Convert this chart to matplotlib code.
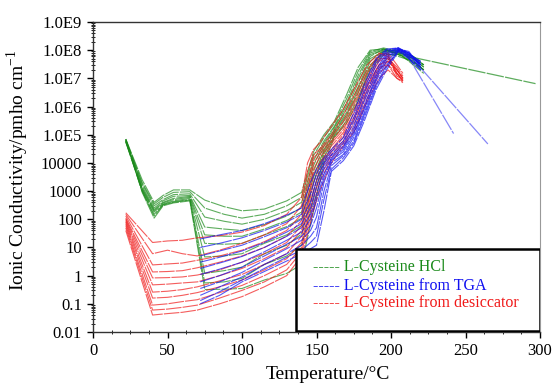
import matplotlib
matplotlib.use("Agg")
import matplotlib.pyplot as plt
from matplotlib.patches import Rectangle
from matplotlib.ticker import FixedLocator, MultipleLocator, LogLocator, NullFormatter

plt.rcParams["font.family"] = ["Liberation Serif", "DejaVu Serif"]
plt.rcParams["mathtext.fontset"] = "custom"
plt.rcParams["mathtext.rm"] = "Liberation Serif"

# L-Cysteine HCl
green_x = [22, 33, 41, 47, 54, 65, 75, 88, 100, 115, 130, 140, 148, 155, 162, 170, 178, 186, 195, 205, 215, 222]
green_y = [
    [7e4, 2500, 400, 700, 1100, 1100, 480, 280, 200, 230, 450, 900, 2.5e4, 1e5, 3e5, 2.5e6, 2.5e7, 1e8, 1.1e8, 7e7, 4e7, 2e7],
    [7e4, 2000, 350, 600, 900, 950, 250, 150, 110, 150, 300, 600, 1.8e4, 8e4, 2.5e5, 1.8e6, 1.8e7, 9e7, 1.2e8, 9e7, 6e7, 3e7],
    [6.5e4, 1800, 300, 500, 750, 800, 120, 85, 67, 100, 200, 400, 1.2e4, 6e4, 2e5, 1.3e6, 1.3e7, 8e7, 1.1e8, 8e7, 5e7, 2.5e7],
    [6.5e4, 1500, 250, 450, 650, 700, 53, 45, 40, 65, 130, 260, 8e3, 5e4, 1.8e5, 1e6, 1e7, 7e7, 1e8, 1e8, 4e7, 2e7],
    [6e4, 1300, 220, 400, 550, 650, 28, 25, 25, 45, 90, 180, 5e3, 4e4, 1.5e5, 8e5, 7e6, 6e7, 1.1e8, 7e7, 5e7, 3e7],
    [6e4, 1200, 200, 380, 500, 600, 14, 13, 14, 28, 55, 110, 3e3, 3e4, 1.3e5, 6e5, 5e6, 5e7, 9e7, 8e7, 3e7, 1.5e7],
    [5.5e4, 1100, 180, 350, 450, 550, 4.6, 5, 6, 14, 28, 60, 2e3, 2.5e4, 1.2e5, 5e5, 4e6, 4e7, 1e8, 9e7, 5e7, 2.5e7],
    [5.5e4, 1000, 150, 330, 420, 500, 1.2, 1.5, 2, 6, 12, 30, 1e3, 2e4, 1e5, 4e5, 3e6, 3e7, 8e7, 6e7, 4e7, 2e7],
    [6e4, 1000, 130, 320, 400, 480, 0.55, 0.6, 0.8, 2.5, 5, 12, 500, 1.5e4, 9e4, 3e5, 2e6, 2.5e7, 9e7, 8e7, 6e7, 3e7],
    [7e4, 900, 110, 300, 380, 450, 0.32, 0.33, 0.35, 0.7, 1.2, 2.5, 200, 1e4, 8e4, 2.5e5, 1.5e6, 2e7, 7e7, 7e7, 3.5e7, 2e7],
]
green_tail_x = [215, 297]
green_tail_y = [5.5e7, 6.5e6]

# L-Cysteine from desiccator
red_x = [22, 40, 50, 60, 70, 85, 100, 115, 130, 140, 144, 148, 152, 160, 168, 176, 184, 192, 198, 204, 208]
red_y = [
    [170, 15, 17, 18, 22, 26, 35, 60, 150, 600, 1e4, 3e4, 5e4, 2e5, 8e5, 5e6, 3e7, 8e7, 6e7, 2e7, 1e7],
    [150, 6, 8, 6, 5, 8, 14, 28, 70, 300, 5e3, 2e4, 3e4, 1e5, 5e5, 3e6, 2e7, 7e7, 8e7, 3e7, 1.5e7],
    [130, 2.4, 2.6, 2.8, 3.5, 5, 8, 16, 40, 150, 2e3, 1.5e4, 2.5e4, 8e4, 3e5, 2e6, 1.5e7, 6e7, 7e7, 1.5e7, 8e6],
    [110, 1.35, 1.4, 1.5, 1.9, 3, 5, 10, 25, 90, 1e3, 1e4, 2e4, 6e4, 2e5, 1.5e6, 1e7, 5e7, 5e7, 2.5e7, 1.2e7],
    [100, 0.83, 0.85, 0.9, 1.05, 1.6, 3, 6, 15, 60, 500, 6e3, 1.5e4, 5e4, 1.5e5, 1e6, 8e6, 4e7, 6e7, 1.2e7, 9e6],
    [90, 0.47, 0.5, 0.55, 0.6, 1, 1.8, 4, 10, 40, 300, 4e3, 1e4, 4e4, 1.2e5, 7e5, 6e6, 3e7, 4e7, 2e7, 1e7],
    [80, 0.26, 0.28, 0.32, 0.4, 0.65, 1.1, 2.5, 6, 25, 200, 2e3, 8e3, 3e4, 1e5, 5e5, 5e6, 3e7, 5e7, 1.5e7, 8e6],
    [70, 0.16, 0.17, 0.2, 0.25, 0.4, 0.7, 1.6, 4, 15, 120, 1e3, 5e3, 2.5e4, 8e4, 4e5, 4e6, 2.5e7, 3e7, 1e7, 7e6],
    [60, 0.09, 0.1, 0.12, 0.14, 0.25, 0.45, 1, 2.5, 10, 80, 600, 3e3, 2e4, 6e4, 3e5, 3e6, 2e7, 4e7, 2e7, 1e7],
    [50, 0.06, 0.065, 0.075, 0.09, 0.16, 0.3, 0.6, 1.6, 7, 50, 300, 2e3, 1.5e4, 5e4, 2e5, 2e6, 1.5e7, 3e7, 1.5e7, 9e6],
    [40, 0.04, 0.045, 0.05, 0.06, 0.1, 0.18, 0.4, 1, 5, 30, 200, 1e3, 1e4, 4e4, 1.5e5, 1.5e6, 1e7, 2e7, 1e7, 8e6],
]

# L-Cysteine from TGA
blue_x = [72, 85, 100, 115, 130, 140, 146, 150, 155, 160, 168, 175, 182, 190, 197, 205, 212, 220]
blue_y = [
    [20, 28, 40, 70, 140, 250, 2e3, 6e3, 1.5e4, 3e4, 8e4, 6e5, 6e6, 5e7, 1.1e8, 1.2e8, 8e7, 3e7],
    [10, 14, 22, 40, 80, 150, 800, 4e3, 1.2e4, 2.5e4, 6e4, 4e5, 4e6, 4e7, 1e8, 1.2e8, 7e7, 4e7],
    [5, 7.5, 12, 24, 50, 100, 400, 2.5e3, 1e4, 2e4, 5e4, 3e5, 3e6, 3e7, 9e7, 1.1e8, 9e7, 2.5e7],
    [3, 4.5, 7.5, 15, 35, 70, 250, 1.5e3, 8e3, 1.8e4, 4e4, 2e5, 2e6, 2e7, 8e7, 1.2e8, 6e7, 3.5e7],
    [1.8, 2.8, 4.8, 10, 25, 50, 150, 800, 6e3, 1.5e4, 3.5e4, 1.5e5, 1.5e6, 1.5e7, 7e7, 1.1e8, 8e7, 3e7],
    [1.1, 1.7, 3, 7, 18, 35, 100, 500, 4e3, 1.3e4, 3e4, 1.2e5, 1e6, 1.2e7, 6e7, 1e8, 7e7, 4e7],
    [0.6, 1, 2, 5, 13, 25, 60, 250, 3e3, 1.2e4, 2.5e4, 1e5, 8e5, 1e7, 5e7, 1.1e8, 5e7, 2e7],
    [0.35, 0.6, 1.3, 3.5, 9, 18, 40, 120, 2e3, 1e4, 2e4, 8e4, 6e5, 8e6, 4e7, 1e8, 8e7, 3e7],
    [0.2, 0.4, 0.9, 2.5, 6, 12, 25, 50, 1e3, 8e3, 1.8e4, 6e4, 5e5, 6e6, 3e7, 9e7, 6e7, 2.5e7],
    [0.13, 0.27, 0.7, 1.8, 4.5, 8, 15, 25, 500, 6e3, 1.5e4, 5e4, 4e5, 5e6, 2.5e7, 1e8, 7e7, 3e7],
    [0.1, 0.2, 0.6, 1.4, 3.3, 6, 9, 12, 200, 5e3, 1.2e4, 4e4, 3e5, 4e6, 2e7, 9e7, 5e7, 2e7],
]
blue_tail1_x = [209, 242]
blue_tail1_y = [1e8, 1.1e5]
blue_tail2_x = [211, 265]
blue_tail2_y = [8e7, 4.7e4]

yticks = [0.01, 0.1, 1, 10, 100, 1000, 1e4, 1e5, 1e6, 1e7, 1e8, 1e9]
ytick_labels = ["0.01", "0.1", "1", "10", "100", "1000", "10000",
                "1.0E5", "1.0E6", "1.0E7", "1.0E8", "1.0E9"]
legend_labels = ["L-Cysteine HCl", "L-Cysteine from TGA", "L-Cysteine from desiccator"]

GREEN = "#1a8a1a"
BLUE = "#1010f0"
RED = "#f01818"
DASH = (0, (14, 1))

fig = plt.figure(figsize=(5.53, 3.85), dpi=100)
ax = fig.add_axes([93 / 553, 53 / 385, 447 / 553, 310 / 385])
ax.set_yscale("log")


def ciz(xs, ys, color):
    for y in ys:
        ax.plot(xs, y, color=color, lw=0.8, alpha=0.7, linestyle=DASH)


ciz(green_x, green_y, GREEN)
ax.plot(green_tail_x, green_tail_y, color=GREEN, lw=0.9, alpha=0.7, linestyle=DASH)
ciz(red_x, red_y, RED)
ciz(blue_x, blue_y, BLUE)
ax.plot(blue_tail1_x, blue_tail1_y, color=BLUE, lw=0.9, alpha=0.5, linestyle=DASH)
ax.plot(blue_tail2_x, blue_tail2_y, color=BLUE, lw=0.9, alpha=0.5, linestyle=DASH)

ax.set_xlim(0, 300)
ax.set_ylim(0.01, 1e9)
ax.xaxis.set_major_locator(MultipleLocator(50))
ax.xaxis.set_minor_locator(MultipleLocator(12.5))
ax.yaxis.set_major_locator(FixedLocator(yticks))
ax.set_yticklabels(ytick_labels)
ax.yaxis.set_minor_locator(LogLocator(base=10, subs=range(2, 10), numticks=20))
ax.yaxis.set_minor_formatter(NullFormatter())
ax.tick_params(axis="both", which="major", direction="out", length=4, width=1,
               labelsize=12, pad=4)
ax.tick_params(axis="both", which="minor", direction="inout", length=3, width=0.6)

for s in ["top", "left", "bottom"]:
    ax.spines[s].set_linewidth(1.0)
    ax.spines[s].set_color("#333333")
ax.spines["right"].set_color("#999999")
ax.spines["right"].set_linewidth(0.8)

ax.set_xlabel("Temperature/°C", fontsize=14)
ax.xaxis.set_label_coords(0.526, -0.11)
ax.set_ylabel("Ionic Conductivity/pmho cm$^{\\mathregular{-1}}$", fontsize=14)
ax.yaxis.set_label_coords(-0.138, 0.52)

# legend kutusu
ax.add_patch(Rectangle((0.454, 0.003), 0.546, 0.265, transform=ax.transAxes,
                       facecolor="white", edgecolor="black", lw=1.8, zorder=5))
for nom, renk, yy in zip(legend_labels, [GREEN, BLUE, RED], [0.21, 0.148, 0.092]):
    ax.text(0.492, yy, "----- " + nom, color=renk, fontsize=11.5,
            transform=ax.transAxes, va="center", ha="left", zorder=6)

plt.savefig("out.png", dpi=100)
plt.close()
